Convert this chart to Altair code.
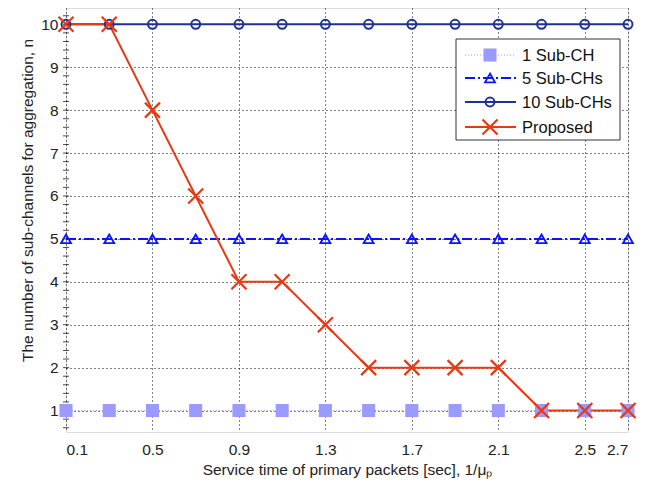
import altair as alt
import pandas as pd

x_vals = [0.1, 0.3, 0.5, 0.7, 0.9, 1.1, 1.3, 1.5, 1.7, 1.9, 2.1, 2.3, 2.5, 2.7]
one_ch = [1, 1, 1, 1, 1, 1, 1, 1, 1, 1, 1, 1, 1, 1]
five_ch = [5, 5, 5, 5, 5, 5, 5, 5, 5, 5, 5, 5, 5, 5]
ten_ch = [10, 10, 10, 10, 10, 10, 10, 10, 10, 10, 10, 10, 10, 10]
proposed = [10, 10, 8, 6, 4, 4, 3, 2, 2, 2, 2, 1, 1, 1]
x_ticks = [0.1, 0.5, 0.9, 1.3, 1.7, 2.1, 2.5, 2.7]
y_ticks = [1, 2, 3, 4, 5, 6, 7, 8, 9, 10]
y_minor = [0.6, 0.8, 1.0, 1.2, 1.4, 1.6, 1.8, 2.0, 2.2, 2.4, 2.6, 2.8, 3.0, 3.2, 3.4, 3.6,
           3.8, 4.0, 4.2, 4.4, 4.6, 4.8, 5.0, 5.2, 5.4, 5.6, 5.8, 6.0, 6.2, 6.4, 6.6, 6.8,
           7.0, 7.2, 7.4, 7.6, 7.8, 8.0, 8.2, 8.4, 8.6, 8.8, 9.0, 9.2, 9.4, 9.6, 9.8, 10.0, 10.2]
names = ["1 Sub-CH", "5 Sub-CHs", "10 Sub-CHs", "Proposed"]
colors = ["#9a9aff", "#0a14ff", "#1e3296", "#e63a12"]

FONT = "Liberation Sans"
W, H = 562, 424
XDOM = [0.1, 2.7]
YDOM = [0.5, 10.38]

def df_of(ys):
    return pd.DataFrame({"x": x_vals, "y": ys})

xenc = alt.X("x:Q", scale=alt.Scale(domain=XDOM, nice=False, zero=False),
             axis=alt.Axis(values=x_ticks, format=".1f", grid=True, gridDash=[1, 3],
                           gridColor="#000000", gridOpacity=1, ticks=False,
                           domain=False, labelPadding=10, labelFontSize=15.5,
                           labelColor="#222", title="Service time of primary packets [sec], 1/μₚ",
                           titleFontSize=15.5, titleFontWeight="normal", titlePadding=5,
                           titleColor="#222", labelFont=FONT, titleFont=FONT))
yenc = alt.Y("y:Q", scale=alt.Scale(domain=YDOM, nice=False, zero=False),
             axis=alt.Axis(values=y_ticks, format="d", grid=True, gridDash=[1, 3],
                           gridColor="#000000", gridOpacity=1, ticks=False,
                           domain=False, labelPadding=8, labelFontSize=15.5,
                           labelColor="#222",
                           title="The number of sub-channels for aggregation, n",
                           titleFontSize=15.5, titleFontWeight="normal", titlePadding=5,
                           titleColor="#222", titleY=192, labelFont=FONT, titleFont=FONT))

def series(ys, color, line_kw, point_kw):
    base = alt.Chart(df_of(ys))
    ln = base.mark_line(color=color, **line_kw).encode(x=xenc, y=yenc)
    pt = base.mark_point(color=color, **point_kw).encode(x="x:Q", y="y:Q")
    return ln, pt

X_PATH = "M-1,-1L1,1M-1,1L1,-1"

line_styles = [dict(strokeDash=[1, 2], strokeWidth=1.2),
               dict(strokeDash=[10, 3, 2, 3], strokeWidth=2),
               dict(strokeWidth=2),
               dict(strokeWidth=2)]
pt_styles = [dict(shape="square", filled=True, size=170, opacity=1),
             dict(shape="triangle-up", filled=False, size=100, strokeWidth=1.8, opacity=1),
             dict(shape="circle", filled=False, size=80, strokeWidth=2, opacity=1),
             dict(shape=X_PATH, filled=False, size=225, strokeWidth=2.2, opacity=1)]

l1, p1 = series(one_ch, colors[0], line_styles[0], pt_styles[0])
l5, p5 = series(five_ch, colors[1], line_styles[1], pt_styles[1])
l10, p10 = series(ten_ch, colors[2], line_styles[2], pt_styles[2])
lp, pp = series(proposed, colors[3], line_styles[3], pt_styles[3])

# left-edge minor ticks (pointing inward)
minor = alt.Chart(pd.DataFrame({"y": y_minor})).mark_tick(
    color="black", thickness=1, size=6, orient="horizontal").encode(
    y="y:Q", x=alt.value(0))

one = pd.DataFrame({"a": [0]})
leg = []
leg.append(alt.Chart(one).mark_rect(fill="white", stroke="#333", strokeWidth=1).encode(
    x=alt.value(390), x2=alt.value(554), y=alt.value(31), y2=alt.value(132)))
rows_y = [47, 70, 94, 119]
for i, nm in enumerate(names):
    yy = rows_y[i]
    leg.append(alt.Chart(one).mark_rule(color=colors[i], **line_styles[i]).encode(
        x=alt.value(399), x2=alt.value(450), y=alt.value(yy)))
    leg.append(alt.Chart(one).mark_point(color=colors[i], **pt_styles[i]).encode(
        x=alt.value(424), y=alt.value(yy)))
    leg.append(alt.Chart(one).mark_text(align="left", baseline="middle", fontSize=16.5,
                                        font=FONT, color="#111").encode(
        x=alt.value(456), y=alt.value(yy + 1), text=alt.value(nm)))

chart = alt.layer(l1, l5, l10, lp, minor, p1, p5, p10, pp, *leg).properties(
    width=W, height=H,
    autosize=alt.AutoSizeParams(type="none"),
    padding={"left": 58, "top": 0, "right": 24, "bottom": 54},
).configure_view(stroke="black", strokeWidth=1.3).configure(
    background="white", font=FONT)

chart.save("out.html", embed_options={"renderer": "svg", "actions": False})
